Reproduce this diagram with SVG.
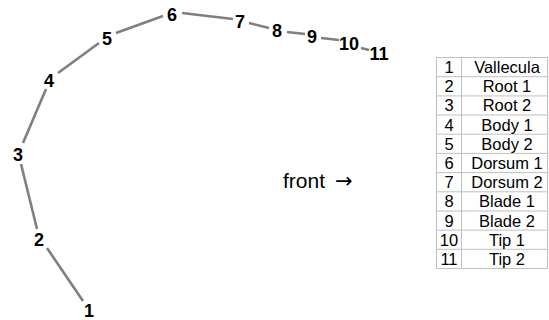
<svg xmlns="http://www.w3.org/2000/svg" width="549" height="320" viewBox="0 0 549 320">
  <style>
    .seg { stroke: #7f7f7f; stroke-width: 2.6; fill: none; stroke-linecap: butt; }
    .pt { font-family: "Liberation Sans", Arial, sans-serif; font-weight: bold; font-size: 18px; fill: #000; text-anchor: middle; }
    .grid { stroke: #c0c0c0; stroke-width: 1; fill: none; }
    .cell { font-family: "Liberation Sans", Arial, sans-serif; font-size: 16.5px; fill: #000; text-anchor: middle; }
    .note { font-family: "Liberation Sans", Arial, sans-serif; font-size: 21px; fill: #000; }
    .arrow { font-family: "DejaVu Sans", sans-serif; font-size: 21px; }
  </style>
  <rect width="549" height="320" fill="#fff"/>

  <!-- connectors between consecutive tongue points -->
  <g id="connectors">
    <line class="seg" x1="47" y1="248" x2="83" y2="301"/>
    <line class="seg" x1="21" y1="164" x2="37" y2="229"/>
    <line class="seg" x1="23" y1="143" x2="46" y2="89"/>
    <line class="seg" x1="58" y1="73" x2="99" y2="43"/>
    <line class="seg" x1="116" y1="33" x2="163" y2="16"/>
    <line class="seg" x1="182" y1="13" x2="233" y2="19"/>
    <line class="seg" x1="249" y1="23" x2="269" y2="28"/>
    <line class="seg" x1="287" y1="32" x2="305" y2="34"/>
    <line class="seg" x1="321" y1="38" x2="339" y2="40"/>
    <line class="seg" x1="361" y1="48" x2="369" y2="50"/>
  </g>

  <!-- numbered points -->
  <g id="p1"><text class="pt" x="89" y="317">1</text></g>
  <g id="p2"><text class="pt" x="39" y="246">2</text></g>
  <g id="p3"><text class="pt" x="18" y="161">3</text></g>
  <g id="p4"><text class="pt" x="49" y="87">4</text></g>
  <g id="p5"><text class="pt" x="107" y="45">5</text></g>
  <g id="p6"><text class="pt" x="172" y="21">6</text></g>
  <g id="p7"><text class="pt" x="240" y="28">7</text></g>
  <g id="p8"><text class="pt" x="277" y="37">8</text></g>
  <g id="p9"><text class="pt" x="312" y="43">9</text></g>
  <g id="p10"><text class="pt" x="349" y="50">10</text></g>
  <g id="p11"><text class="pt" x="379" y="60">11</text></g>

  <g id="front-label"><text class="note" x="283" y="188">front<tspan class="arrow" dx="10">→</tspan></text></g>

  <!-- legend table -->
  <g id="legend">
    <rect class="grid" x="436.5" y="57.5" width="111" height="211"/>
    <line class="grid" x1="461.5" y1="57.5" x2="461.5" y2="268.5"/>
    <g class="grid">
      <line x1="436.5" y1="76.7" x2="547.5" y2="76.7"/>
      <line x1="436.5" y1="95.9" x2="547.5" y2="95.9"/>
      <line x1="436.5" y1="115.0" x2="547.5" y2="115.0"/>
      <line x1="436.5" y1="134.2" x2="547.5" y2="134.2"/>
      <line x1="436.5" y1="153.4" x2="547.5" y2="153.4"/>
      <line x1="436.5" y1="172.6" x2="547.5" y2="172.6"/>
      <line x1="436.5" y1="191.8" x2="547.5" y2="191.8"/>
      <line x1="436.5" y1="211.0" x2="547.5" y2="211.0"/>
      <line x1="436.5" y1="230.1" x2="547.5" y2="230.1"/>
      <line x1="436.5" y1="249.3" x2="547.5" y2="249.3"/>
    </g>
    <g class="cell">
      <text x="449" y="73">1</text><text x="507" y="73">Vallecula</text>
      <text x="449" y="92.2">2</text><text x="507" y="92.2">Root 1</text>
      <text x="449" y="111.4">3</text><text x="507" y="111.4">Root 2</text>
      <text x="449" y="130.5">4</text><text x="507" y="130.5">Body 1</text>
      <text x="449" y="149.7">5</text><text x="507" y="149.7">Body 2</text>
      <text x="449" y="168.9">6</text><text x="507" y="168.9">Dorsum 1</text>
      <text x="449" y="188.1">7</text><text x="507" y="188.1">Dorsum 2</text>
      <text x="449" y="207.3">8</text><text x="507" y="207.3">Blade 1</text>
      <text x="449" y="226.5">9</text><text x="507" y="226.5">Blade 2</text>
      <text x="449" y="245.6">10</text><text x="507" y="245.6">Tip 1</text>
      <text x="449" y="264.8">11</text><text x="507" y="264.8">Tip 2</text>
    </g>
  </g>
</svg>
